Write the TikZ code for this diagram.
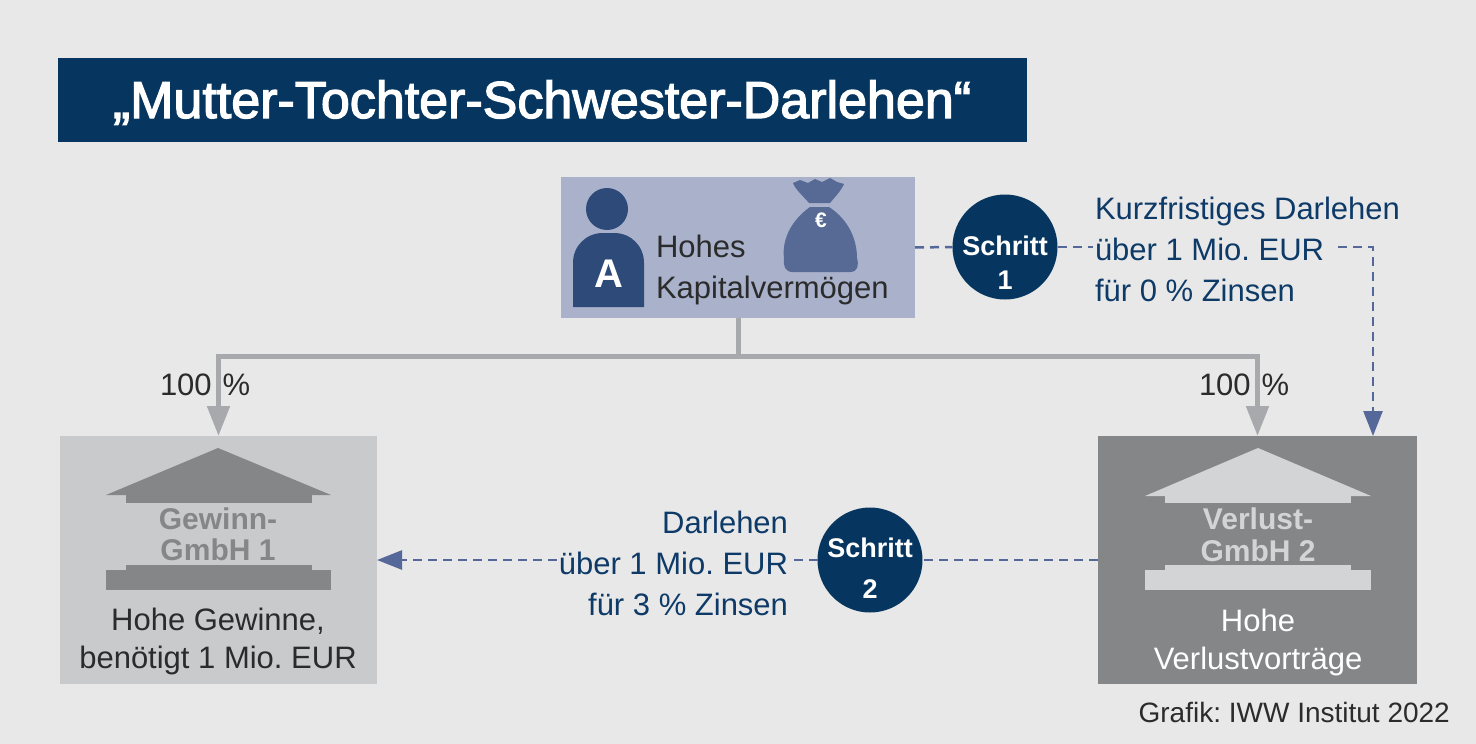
\documentclass[tikz,border=0pt]{standalone}
\usepackage{fontspec}
\setmainfont{Liberation Sans}
\newfontfamily\titlefont[FakeBold=2.5]{Liberation Sans}
\usetikzlibrary{arrows.meta}
\frenchspacing
\definecolor{bg}{HTML}{E8E8E8}
\definecolor{navy}{HTML}{06365F}
\definecolor{topbox}{HTML}{A9B1CB}
\definecolor{person}{HTML}{2E4A78}
\definecolor{bag}{HTML}{566A95}
\definecolor{dashc}{HTML}{56689A}
\definecolor{glinec}{HTML}{A8A9AC}
\definecolor{boxl}{HTML}{C9CACC}
\definecolor{bldl}{HTML}{858688}
\definecolor{boxr}{HTML}{858688}
\definecolor{bldr}{HTML}{D3D4D6}
\definecolor{txtd}{HTML}{2B2B2B}
\definecolor{txtb}{HTML}{0E3A68}
\newcommand{\bodysize}{\fontsize{31}{38}\selectfont}
\begin{document}
\begin{tikzpicture}[x=1pt,y=-1pt,
  body/.style={font=\bodysize, inner sep=2pt, outer sep=0pt},
  boxnode/.style={draw=none, inner sep=0pt, outer sep=0pt, anchor=north west},
  stepc/.style={circle, fill=navy, minimum size=105pt, inner sep=0pt, outer sep=0pt},
  steptext/.style={font=\fontsize{27}{30}\selectfont\bfseries, text=white, anchor=base, inner sep=0pt},
  bldtext/.style={font=\fontsize{30}{30}\selectfont\bfseries, anchor=base, inner sep=0pt},
  gline/.style={draw=glinec, line width=5pt},
  garrow/.style={gline, -{Triangle[length=30pt,width=22pt]}},
  dline/.style={draw=dashc, line width=2.5pt, dash pattern=on 9pt off 6pt},
  darrow/.style={dline, -{Triangle[length=25pt,width=19pt]}}
]
\useasboundingbox (0,0) rectangle (1476,744);
\fill[bg] (0,0) rectangle (1476,744);

% title
\node[boxnode, fill=navy, minimum width=969pt, minimum height=84pt] (title) at (58,58) {};
\node[font=\titlefont\fontsize{52}{56}\selectfont, text=white, anchor=base, inner sep=0pt] (titletext) at (542,118) {„Mutter-Tochter-Schwester-Darlehen“};

% top box
\node[boxnode, fill=topbox, minimum width=354pt, minimum height=141pt] (top) at (561,177) {};
\fill[person] (607,209) circle[radius=21];
\fill[person] (573,307) -- (573,263) .. controls (573,246) and (586,233) .. (603,233) -- (614,233) .. controls (631,233) and (644,246) .. (644,263) -- (644,307) -- cycle;
\node[font=\fontsize{40}{40}\selectfont\bfseries, text=white, anchor=base, inner sep=0pt] (letterA) at (609,287) {A};
\fill[bag] (809,203) .. controls (803,196) and (795,189) .. (793,183) -- (800,180) -- (808,183) -- (815,179) -- (822,182) -- (830,178) -- (837,182) -- (844,184) .. controls (841,191) and (834,198) .. (830,203) -- cycle;
\fill[bag] (810,207) .. controls (789,222) and (782,242) .. (784,258) .. controls (783,266) and (785,272) .. (793,272) -- (850,272) .. controls (858,272) and (859,265) .. (857,258) .. controls (857,240) and (849,220) .. (829,207) -- cycle;
\node[font=\fontsize{21}{21}\selectfont\bfseries, text=white, anchor=base, inner sep=0pt] (euro) at (821,227) {€};
\node[body, text=txtd, anchor=base west] (hohes) at (654,257) {Hohes};
\node[body, text=txtd, anchor=base west] (kapital) at (654,298) {Kapitalvermögen};

% lower boxes
\node[boxnode, fill=boxl, minimum width=317pt, minimum height=248pt] (g1) at (60,436) {};
\node[boxnode, fill=boxr, minimum width=319pt, minimum height=248pt] (g2) at (1098,436) {};

% building left
\fill[bldl] (106,495) -- (218,448) -- (331,495) -- cycle;
\fill[bldl] (126,494) rectangle (312,503);
\fill[bldl] (126,565) rectangle (312,571);
\fill[bldl] (106,570) rectangle (331,590);
\node[bldtext, text=bldl] (gw1) at (218,529) {Gewinn-};
\node[bldtext, text=bldl] (gw2) at (218,560) {GmbH 1};
\node[body, text=txtd, anchor=base] (hg1) at (218,630) {Hohe Gewinne,};
\node[body, text=txtd, anchor=base] (hg2) at (218,668) {benötigt 1 Mio. EUR};

% building right
\fill[bldr] (1145,496) -- (1258,448) -- (1371,496) -- cycle;
\fill[bldr] (1165,495) rectangle (1351,503);
\fill[bldr] (1165,565) rectangle (1351,571);
\fill[bldr] (1145,570) rectangle (1371,590);
\node[bldtext, text=bldr] (vl1) at (1258,529) {Verlust-};
\node[bldtext, text=bldr] (vl2) at (1258,561) {GmbH 2};
\node[body, text=white, anchor=base] (hv1) at (1258,631) {Hohe};
\node[body, text=white, anchor=base] (hv2) at (1258,669) {Verlustvorträge};

% ownership connectors
\coordinate (j) at (738,356);
\draw[gline] (top.south) -- (j);
\draw[garrow] (j) -| (g1.north);
\draw[garrow] (j) -| (g2.north);
\node[body, text=txtd, anchor=base west, inner sep=0pt] (p1) at (160,395) {100\hspace{11pt}\%};
\node[body, text=txtd, anchor=base west, inner sep=0pt] (p2) at (1199,395) {100\hspace{11pt}\%};

% step 1
\node[stepc] (s1) at (1005,247) {};
\node[steptext] (s1a) at (1005,255) {Schritt};
\node[steptext] (s1b) at (1005,289) {1};
\node[body, text=txtb, anchor=base west] (k1) at (1093,219) {Kurzfristiges Darlehen};
\node[body, text=txtb, anchor=base west] (k2) at (1093,260) {über 1 Mio. EUR};
\node[body, text=txtb, anchor=base west] (k3) at (1093,301) {für 0 \% Zinsen};
\coordinate (c1) at (1373,247);
\draw[dline] (top.east) -- (s1.west);
\draw[dline] (s1.east) -- (s1.east -| k2.west);
\draw[darrow] ([xshift=12pt]k2.east |- s1) -- (c1) -- (g2.north -| c1);

% step 2
\node[stepc] (s2) at (870,560) {};
\node[steptext] (s2a) at (870,557) {Schritt};
\node[steptext] (s2b) at (870,598) {2};
\node[body, text=txtb, anchor=base east] (d1) at (790,533) {Darlehen};
\node[body, text=txtb, anchor=base east] (d2) at (790,574) {über 1 Mio. EUR};
\node[body, text=txtb, anchor=base east] (d3) at (790,615) {für 3 \% Zinsen};
\draw[dline] (g2.west) -- (s2.east);
\draw[dline] (s2.west) -- (s2.west -| d2.east);
\draw[darrow] (d2.west |- s2) -- (g1.east);

% credit
\node[font=\fontsize{28}{30}\selectfont, text=txtd, anchor=base east, inner sep=0pt] (credit) at (1450,722) {Grafik: IWW Institut 2022};
\end{tikzpicture}
\end{document}
